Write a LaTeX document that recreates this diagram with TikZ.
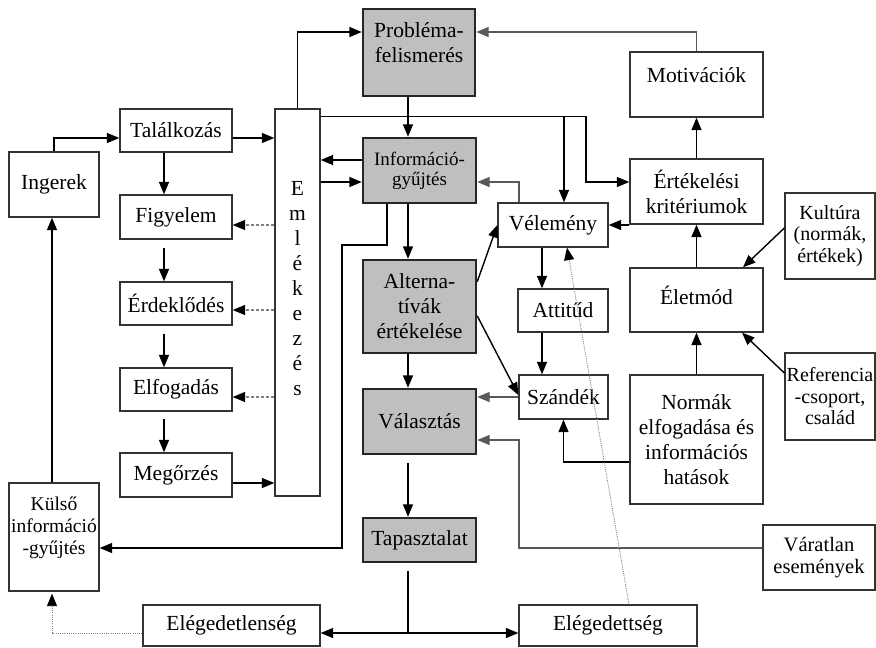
\documentclass[tikz,border=0pt]{standalone}
\usepackage{fontspec}
\setmainfont{Liberation Serif}
\usetikzlibrary{arrows.meta}
\newcommand\fsA{\fontsize{21.5pt}{25pt}\selectfont}
\newcommand\fsB{\fontsize{20pt}{21.5pt}\selectfont}
\newcommand\fsC{\fontsize{19pt}{20pt}\selectfont}
\newcommand\fsD{\fontsize{19.5pt}{22pt}\selectfont}
\newcommand\fsE{\fontsize{20.5pt}{22pt}\selectfont}
\tikzset{
  box/.style={draw=black!80, line width=1.3pt, fill=white, align=center, inner sep=0pt, font=\fsA},
  gbox/.style={box, fill=gray!50, draw=black!85, line width=2.4pt},
  arr/.style={line width=1.4pt, -{Triangle[length=12.5pt,width=10pt]}},
  garr/.style={arr, draw=black!65},
  dsh/.style={line width=1.2pt, draw=gray, dash pattern=on 3pt off 2pt, -{Triangle[length=12.5pt,width=10pt,color=black]}},
  dot/.style={line width=0.9pt, draw=gray, dash pattern=on 1pt off 1.2pt, -{Triangle[length=12.5pt,width=10pt,color=black]}}
}
\begin{document}
\begin{tikzpicture}[x=1pt,y=-1pt]
\useasboundingbox (0,0) rectangle (876,648);
% left column
\node[box, minimum width=90pt, minimum height=65pt] (ing) at (54,184.5) {Ingerek};
\node[box, minimum width=112pt, minimum height=43pt] (tal) at (176,130.5) {Találkozás};
\node[box, minimum width=112pt, minimum height=44pt] (fig) at (176,217) {Figyelem};
\node[box, minimum width=112pt, minimum height=43pt] (erd) at (176,303.5) {Érdeklődés};
\node[box, minimum width=112pt, minimum height=43pt] (elf) at (176,389.5) {Elfogadás};
\node[box, minimum width=112pt, minimum height=44pt] (meg) at (176,475) {Megőrzés};
\node[box, minimum width=45pt, minimum height=387pt] (eml) at (297.5,302.5) {E\\m\\l\\é\\k\\e\\z\\é\\s\\[3pt]\mbox{}};
\node[box, font=\fsD, minimum width=90pt, minimum height=108pt] (kul) at (54,537) {Külső\\információ\\-gyűjtés\\[0pt]\mbox{}};
% centre column
\node[gbox, minimum width=112pt, minimum height=87pt] (prob) at (419,52.5) {Probléma-\\felismerés\\[-6pt]\mbox{}};
\node[gbox, font=\fsC, minimum width=113pt, minimum height=65pt] (info) at (419.5,170.5) {Információ-\\gyűjtés};
\node[gbox, minimum width=113pt, minimum height=93pt] (alt) at (419.5,306.5) {Alterna-\\tívák\\értékelése};
\node[gbox, minimum width=113pt, minimum height=65pt] (val) at (419.5,421.5) {Választás};
\node[gbox, minimum width=113pt, minimum height=44pt] (tap) at (419.5,540) {Tapasztalat};
\node[box, minimum width=177pt, minimum height=41pt] (eln) at (231.5,625.5) {Elégedetlenség};
\node[box, minimum width=178pt, minimum height=41pt] (elt) at (608,625.5) {Elégedettség};
% right part
\node[box, minimum width=110pt, minimum height=44pt] (vel) at (553,225) {Vélemény};
\node[box, minimum width=90pt, minimum height=43pt] (att) at (563,310.5) {Attitűd};
\node[box, minimum width=89pt, minimum height=44pt] (sza) at (563.5,397) {Szándék};
\node[box, minimum width=133pt, minimum height=65pt] (mot) at (696.5,84.5) {Motivációk\\[-6pt]\mbox{}};
\node[box, minimum width=133pt, minimum height=65pt] (ert) at (696.5,191.5) {Értékelési\\kritériumok};
\node[box, minimum width=133pt, minimum height=64pt] (elet) at (696.5,300) {Életmód\\[-15pt]\mbox{}};
\node[box, minimum width=133pt, minimum height=129pt] (norm) at (696.5,439.5) {Normák\\elfogadása és\\információs\\hatások};
\node[box, font=\fsB, minimum width=90pt, minimum height=86pt] (kult) at (830,236) {Kultúra\\(normák,\\értékek)};
\node[box, font=\fsB, minimum width=90pt, minimum height=87pt] (ref) at (830,396.5) {Referencia\\-csoport,\\család};
\node[box, font=\fsE, minimum width=112pt, minimum height=65pt] (var) at (819,557.5) {Váratlan\\események};
% named points
\coordinate (split) at (408,633);
\coordinate (br) at (564,117);
% left column connectors
\draw[arr] (ing.north) |- ([yshift=-7.5pt]tal.west);
\draw[arr] ([yshift=-7.5pt]tal.east) -- ([yshift=-7.5pt]tal.east -| eml.west);
\draw[arr] ([xshift=-12pt]tal.south) -- ([xshift=-12pt]fig.north);
\draw[arr] ([xshift=-12pt,yshift=-8pt]fig.south) -- ([xshift=-12pt]erd.north);
\draw[arr] ([xshift=-12pt,yshift=-8pt]erd.south) -- ([xshift=-12pt]elf.north);
\draw[arr] ([xshift=-12pt,yshift=-7pt]elf.south) -- ([xshift=-12pt]meg.north);
\draw[arr] ([yshift=-8pt]meg.east) -- ([yshift=-8pt]meg.east -| eml.west);
\draw[dsh] ([yshift=-8pt]fig.east -| eml.west) -- ([yshift=-8pt]fig.east);
\draw[dsh] ([yshift=-6.5pt]erd.east -| eml.west) -- ([yshift=-6.5pt]erd.east);
\draw[dsh] ([yshift=-7.5pt]elf.east -| eml.west) -- ([yshift=-7.5pt]elf.east);
\draw[arr] (eml.north) |- ([yshift=20.5pt]prob.west);
\draw[arr] ([yshift=10.5pt]info.west) -- ([yshift=10.5pt]info.west -| eml.east);
\draw[arr] ([yshift=-11.5pt]info.west -| eml.east) -- ([yshift=-11.5pt]info.west);
\draw[arr] ([xshift=-2pt]kul.north) -- ([xshift=-2pt]ing.south);
\draw[arr] ([xshift=-32.5pt]info.south) |- (342,245) |- ([yshift=-11pt]kul.east);
% centre chain
\draw[arr] ([xshift=-11.5pt]info.north |- prob.south) -- ([xshift=-11.5pt]info.north);
\draw[arr] ([xshift=-11.5pt]info.south) -- ([xshift=-11.5pt]alt.north);
\draw[arr] ([xshift=-11.5pt]alt.south) -- ([xshift=-11.5pt]val.north);
\draw[arr] ([xshift=-11.5pt,yshift=-8pt]val.south) -- ([xshift=-11.5pt]tap.north);
\draw[arr] ([xshift=-11.5pt,yshift=-8pt]tap.south) |- ([yshift=-7.5pt]eln.east);
\draw[arr] (split) -- ([yshift=-7.5pt]elt.west);
\draw[dot] ([yshift=-7.5pt]eln.west) -| ([xshift=-2pt,yshift=-2pt]kul.south);
% upper right connectors
\draw[arr] ([yshift=-8pt]eml.north east) -| (586,182) -- ([yshift=9.5pt]ert.west);
\draw[arr] (br) -- ([xshift=11pt]vel.north);
\draw[garr] ([xshift=-34pt]vel.north) |- ([yshift=-11.5pt]info.east);
\draw[arr] (ert.west |- vel.east) -- (vel.east);
\draw[arr] (ert.north) -- (mot.south);
\draw[garr] (mot.north) |- ([yshift=20.5pt]prob.east);
\draw[arr] (elet.north) -- (ert.south);
\draw[arr] (norm.north) -- (elet.south);
\draw[arr] ([yshift=8pt]kult.west) -- ([xshift=46.5pt]elet.north);
\draw[arr] ([yshift=23.5pt]ref.west) -- ([xshift=45.5pt]elet.south);
\draw[arr] ([xshift=-11pt]vel.south) -- ([xshift=-11pt]vel.south |- att.north);
\draw[arr] ([xshift=-11pt]vel.south |- att.south) -- ([xshift=-11pt]vel.south |- sza.north);
\draw[arr] ([yshift=-22.5pt]norm.west) -| (sza.south);
\draw[garr] (sza.west) -- (sza.west -| val.east);
\draw[garr] ([yshift=9.5pt]var.west) -| (519,440) -- ([yshift=-18.5pt]val.east);
\draw[arr] ([yshift=-23pt]alt.north east) -- (vel.west);
\draw[arr] ([yshift=-57pt]alt.north east) -- ([yshift=2pt]sza.west);
\draw[dot] ([xshift=21pt]elt.north) -- ([xshift=14pt]vel.south);
\end{tikzpicture}
\end{document}
